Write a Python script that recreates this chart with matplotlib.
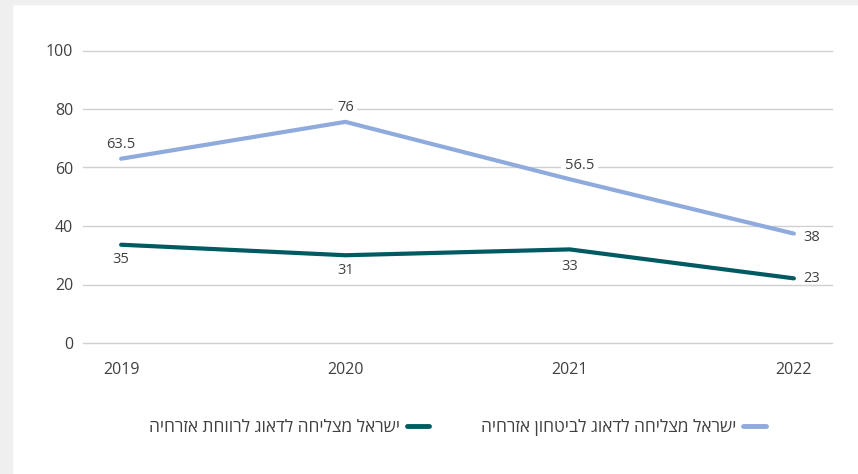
import matplotlib
matplotlib.use("Agg")
import matplotlib.pyplot as plt
from matplotlib.lines import Line2D
from matplotlib.patches import Rectangle

years = ["2019", "2020", "2021", "2022"]
security_values = [63.0, 75.6, 56.0, 37.4]
security_labels = ["63.5", "76", "56.5", "38"]
welfare_values = [33.6, 30.0, 32.0, 22.1]
welfare_labels = ["35", "31", "33", "23"]
series_names = ["ישראל מצליחה לדאוג לביטחון אזרחיה", "ישראל מצליחה לדאוג לרווחת אזרחיה"]
y_ticks = [0, 20, 40, 60, 80, 100]

LIGHT = "#8faadc"
DARK = "#005a62"
TXT = "#404040"
FONT = ["Open Sans", "DejaVu Sans"]
plt.rcParams["font.family"] = FONT

W, H = 858, 474
fig = plt.figure(figsize=(W / 100, H / 100), dpi=100, facecolor="white")
# gray frame strips (top and left)
fig.patches.append(Rectangle((0, 0), 12 / W, 1, transform=fig.transFigure, color="#efefef", zorder=0))
fig.patches.append(Rectangle((0, 1 - 4 / H), 1, 4 / H, transform=fig.transFigure, color="#efefef", zorder=0))

left, right = 83 / W, 832 / W
bottom, top = (H - 343) / H, (H - 50.5) / H
ax = fig.add_axes([left, bottom, right - left, top - bottom])
ax.set_facecolor("none")

x = list(range(len(years)))
ax.plot(x, security_values, color=LIGHT, lw=3.0, solid_capstyle="round", zorder=3)
ax.plot(x, welfare_values, color=DARK, lw=3.0, solid_capstyle="round", zorder=3)

ax.set_xlim(-0.17, 3.17)
ax.set_ylim(0, 100)
ax.set_yticks(y_ticks)
ax.set_xticks(x)
ax.set_xticklabels(years)
ax.grid(axis="y", color="#d0d0d0", lw=1.0)
for gl in ax.get_ygridlines():
    gl.set_clip_on(False)
ax.set_axisbelow(True)
for s in ax.spines.values():
    s.set_visible(False)
ax.tick_params(axis="both", length=0, labelsize=11.5, colors=TXT)
ax.tick_params(axis="x", pad=14)
ax.tick_params(axis="y", pad=7)

box = dict(boxstyle="square,pad=0.25", fc="white", ec="none")
sec_offsets = [(0, 10), (0, 10), (7, 10), (13, -3)]
for i, (v, lab) in enumerate(zip(security_values, security_labels)):
    dx, dy = sec_offsets[i]
    ax.annotate(lab, (x[i], v), xytext=(dx, dy), textcoords="offset points",
                ha="center", va="center", fontsize=10.5, color=TXT, bbox=box, zorder=2)
wel_offsets = [(0, -11), (0, -11), (0, -12), (13, 0)]
for i, (v, lab) in enumerate(zip(welfare_values, welfare_labels)):
    dx, dy = wel_offsets[i]
    ax.annotate(lab, (x[i], v), xytext=(dx, dy), textcoords="offset points",
                ha="center", va="center", fontsize=10.5, color=TXT, zorder=2)

handles = [Line2D([], [], color=DARK, lw=3.5, solid_capstyle="round"),
           Line2D([], [], color=LIGHT, lw=3.5, solid_capstyle="round")]
labels = [series_names[1][::-1], series_names[0][::-1]]
leg = ax.legend(handles, labels, loc="center", bbox_to_anchor=(0.5, (343 - 428) / (343 - 50.5)),
                ncol=2, markerfirst=False, frameon=False, fontsize=12.4,
                handlelength=1.3, handletextpad=0.4, columnspacing=3.0)
for t in leg.get_texts():
    t.set_color(TXT)

fig.savefig("out.png", dpi=100, facecolor="white")
